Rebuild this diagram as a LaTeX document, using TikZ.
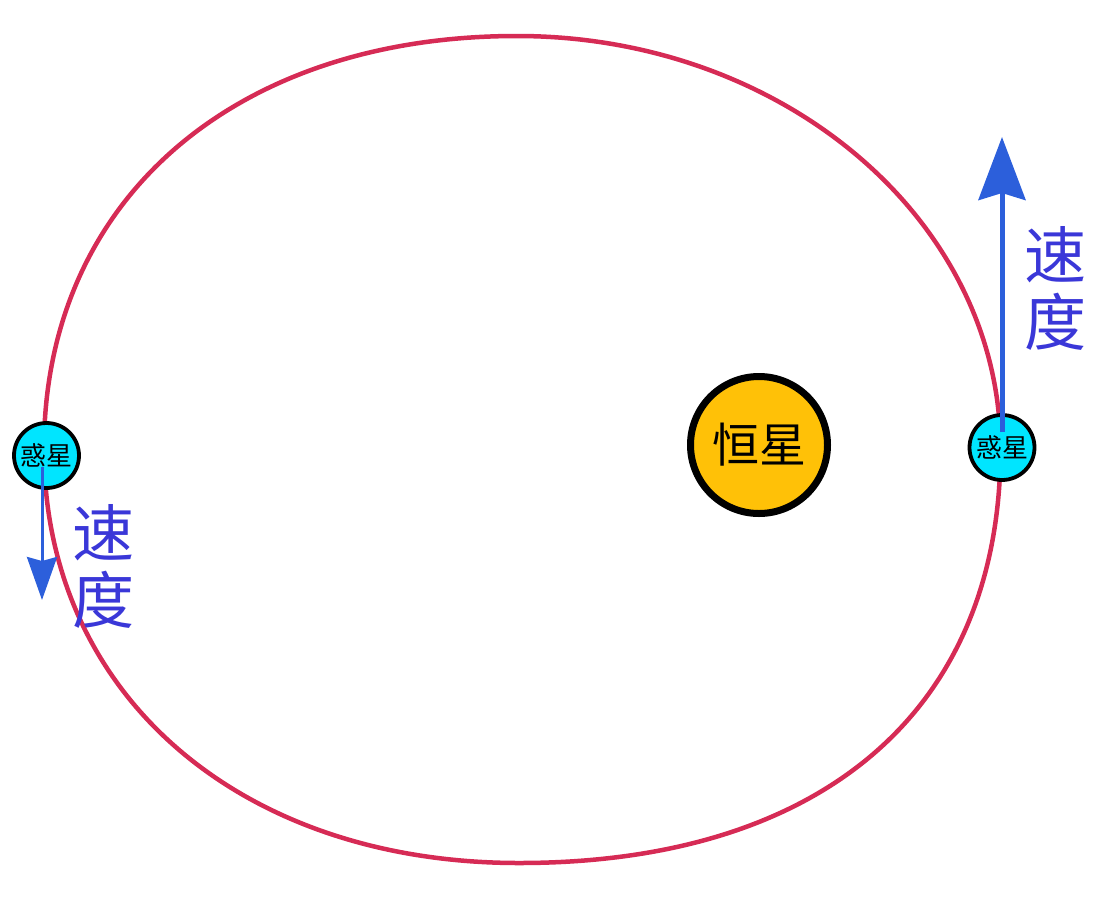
\documentclass[tikz,border=0pt]{standalone}
\usepackage{fontspec}
\newfontfamily\cjk{Noto Sans CJK SC}
\usetikzlibrary{arrows.meta}
\definecolor{orbitred}{HTML}{D62B55}
\definecolor{stargold}{HTML}{FFC107}
\definecolor{planetcyan}{HTML}{00E5FF}
\definecolor{arrowblue}{HTML}{2C5FDB}
\definecolor{labelblue}{HTML}{3A37D8}
\tikzset{
  orbit/.style={draw=orbitred, line width=4.5pt},
  starbody/.style={circle, draw=black, line width=7pt, fill=stargold, inner sep=0pt, minimum size=137pt, font=\cjk\fontsize{47}{50}\selectfont},
  planetbody/.style={circle, draw=black, line width=3.8pt, fill=planetcyan, inner sep=0pt, minimum size=65pt, font=\cjk\fontsize{26}{28}\selectfont},
  velo/.style={draw=arrowblue, line width=5pt, -{Stealth[length=63pt,width=47pt,inset=7pt]}},
  velosmall/.style={draw=arrowblue, line width=3pt, -{Stealth[length=43pt,width=30pt,inset=4pt]}},
  vlabel/.style={text=labelblue, inner sep=0pt, font=\cjk\fontsize{62}{64}\selectfont}
}
\begin{document}
\begin{tikzpicture}[x=1pt,y=-1pt]
\useasboundingbox (0,0) rectangle (1109,914);
% orbit
\draw[orbit] (517,36) .. controls (784,36) and (1000.5,220.9) .. (1000.5,449)
  .. controls (1000.5,709.8) and (822.3,863) .. (519,863)
  .. controls (238.8,863) and (44,693.3) .. (44,449)
  .. controls (44,201.2) and (233.2,36) .. (517,36) -- cycle;
% star
\node[starbody] (star) at (759,445) {恒星};
% planets
\node[planetbody] (rp) at (1002,447.5) {惑星};
\node[planetbody] (lp) at (46.5,455.5) {惑星};
% velocity arrows
\coordinate (rv0) at (1002,432);
\coordinate (rv1) at (1002,137);
\coordinate (lv0) at (42,467);
\coordinate (lv1) at (42,600);
\draw[velo] (rv0) -- (rv1);
\draw[velosmall] (lv0) -- (lv1);
% labels
\node[vlabel] (rl1) at (1055,255) {速};
\node[vlabel] (rl2) at (1055,322) {度};
\node[vlabel] (ll1) at (103,533) {速};
\node[vlabel] (ll2) at (103,600) {度};
\end{tikzpicture}
\end{document}
